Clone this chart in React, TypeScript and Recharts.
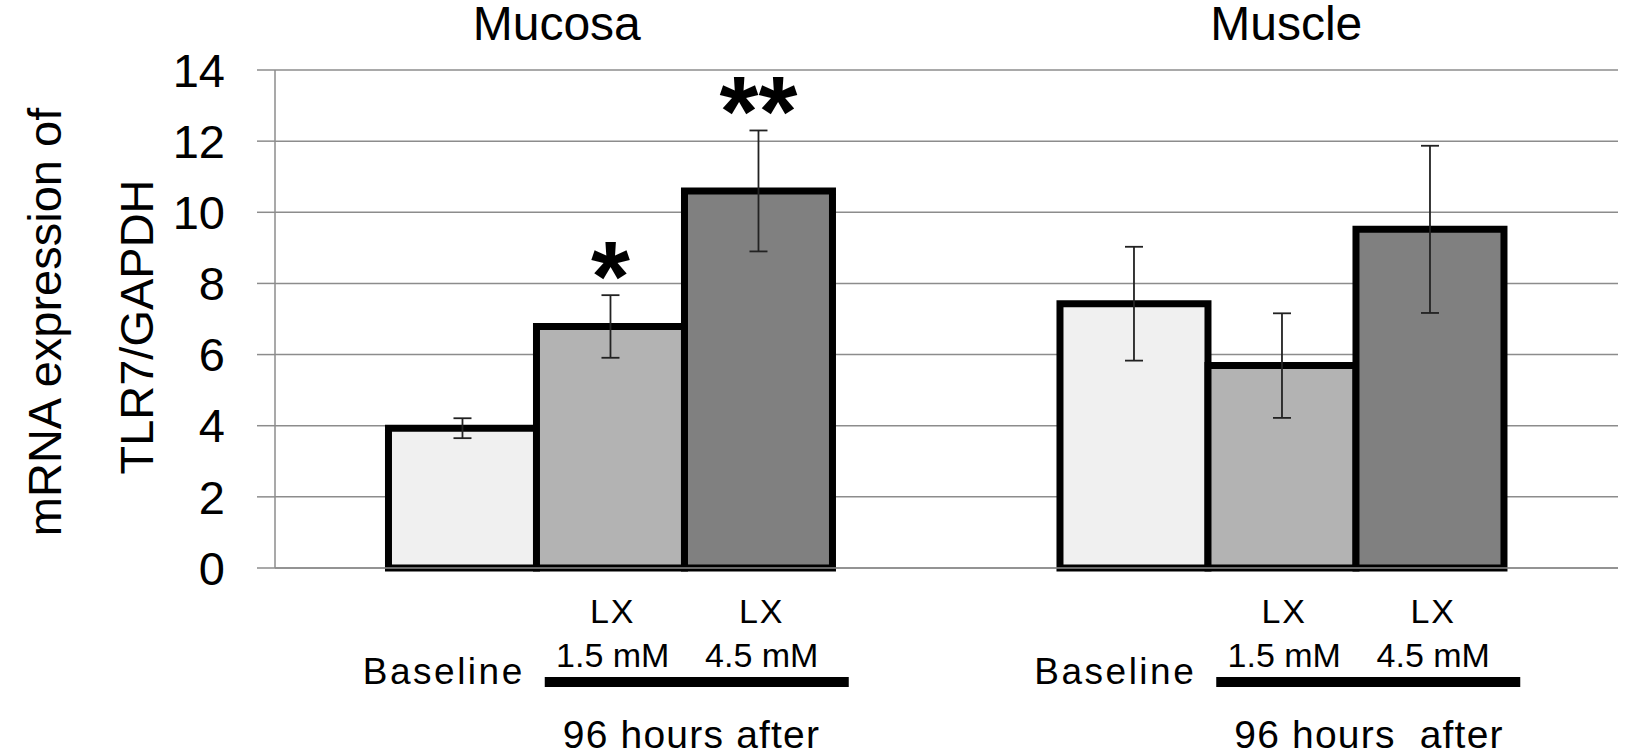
import React from 'react';
import { BarChart, Bar, XAxis, YAxis, CartesianGrid, ErrorBar, LabelList } from 'recharts';

const tissues = ['Mucosa', 'Muscle'];
const baseline = [3.93, 7.43];
const baselineErr = [0.28, 1.6];
const lx15 = [6.79, 5.69];
const lx15Err = [0.88, 1.47];
const lx45 = [10.6, 9.52];
const lx45Err = [1.7, 2.35];
const lx15Sig = ['*', ''];
const lx45Sig = ['**', ''];
const yTicks = [0, 2, 4, 6, 8, 10, 12, 14];
const drugLabel = 'LX';
const doseLabels = ['1.5 mM', '4.5 mM'];
const baselineLabel = 'Baseline';
const afterLabels = ['96 hours after', '96 hours  after'];
const yLabelLines = ['mRNA expression of', 'TLR7/GAPDH'];

const data = tissues.map((name, i) => ({
  name,
  baseline: baseline[i],
  baselineErr: baselineErr[i],
  lx15: lx15[i],
  lx15Err: lx15Err[i],
  lx15Sig: lx15Sig[i],
  lx45: lx45[i],
  lx45Err: lx45Err[i],
  lx45Sig: lx45Sig[i],
}));

const FONT = '"Liberation Sans", Arial, sans-serif';
const BAR_W = 149;
const GRID = '#8c8c8c';

// asterisks sit just above the error bar cap
const sigLabel = (values: number[], errs: number[]) => (props: any) => {
  const { x, y, width, height, value, index } = props;
  if (!value) return null;
  const pxPerUnit = height / values[index];
  const errTop = y - errs[index] * pxPerUnit;
  return (
    <text x={x + width / 2} y={errTop + 16} textAnchor="middle" fontSize={100} fontWeight="bold" fontFamily={FONT} fill="#000">
      {value}
    </text>
  );
};

const BottomTick = (props: any) => {
  const { x, y, index } = props;
  const cx = x;
  return (
    <g fontFamily={FONT} fill="#000">
      {doseLabels.map((d, k) => (
        <g key={d}>
          <text x={cx + k * BAR_W + 2} y={y + 47} textAnchor="middle" fontSize={34} letterSpacing={2}>{drugLabel}</text>
          <text x={cx + k * BAR_W + 2} y={y + 91} textAnchor="middle" fontSize={34}>{d}</text>
        </g>
      ))}
      <text x={cx - 86} y={y + 108} textAnchor="end" fontSize={37} letterSpacing={2.5}>{baselineLabel}</text>
      <rect x={cx - 66} y={y + 101} width={304} height={10} fill="#000" />
      <text x={cx - 48} y={y + 172} textAnchor="start" fontSize={39} letterSpacing={1.2} style={{ whiteSpace: 'pre' }}>
        {afterLabels[index]}
      </text>
    </g>
  );
};

const TopTick = (props: any) => {
  const { x, y, payload, index } = props;
  const dx = index === 0 ? -54 : 4;
  return (
    <text x={x + dx} y={y - 22} textAnchor="middle" fontSize={48} fontFamily={FONT} fill="#000">
      {payload.value}
    </text>
  );
};

const YLabel = () => (
  <g fontFamily={FONT} fontSize={47} fill="#000">
    <text transform="translate(61,322) rotate(-90)" textAnchor="middle">{yLabelLines[0]}</text>
    <text transform="translate(153,327) rotate(-90)" textAnchor="middle">{yLabelLines[1]}</text>
  </g>
);

export default function App() {
  return (
    <div style={{ position: 'absolute', left: 0, top: 0, background: '#fff' }}>
      <BarChart
        width={1628}
        height={752}
        data={data}
        margin={{ top: 0, right: 10, bottom: 0, left: 0 }}
        barGap={0}
        barCategoryGap="16.9%"
      >
        <CartesianGrid vertical={false} stroke={GRID} strokeWidth={1.5} />
        <XAxis
          dataKey="name"
          xAxisId={0}
          height={184}
          axisLine={{ stroke: GRID, strokeWidth: 1.5 }}
          tickLine={false}
          interval={0}
          tick={<BottomTick />}
        />
        <XAxis
          dataKey="name"
          xAxisId="top"
          orientation="top"
          height={70}
          axisLine={false}
          tickLine={false}
          interval={0}
          tick={<TopTick />}
        />
        <YAxis
          width={275}
          domain={[0, 14]}
          ticks={yTicks}
          interval={0}
          tickSize={18}
          tickMargin={32}
          axisLine={{ stroke: GRID, strokeWidth: 1.5 }}
          tickLine={{ stroke: GRID, strokeWidth: 1.5 }}
          tick={{ fontSize: 47, fontFamily: FONT, fill: '#000' }}
          label={{ content: () => <YLabel /> }}
        />
        <Bar dataKey="baseline" fill="#f0f0f0" stroke="#000" strokeWidth={7} isAnimationActive={false}>
          <ErrorBar dataKey="baselineErr" width={9} stroke="#222" strokeWidth={1.8} />
        </Bar>
        <Bar dataKey="lx15" fill="#b3b3b3" stroke="#000" strokeWidth={7} isAnimationActive={false}>
          <ErrorBar dataKey="lx15Err" width={9} stroke="#222" strokeWidth={1.8} />
          <LabelList dataKey="lx15Sig" content={sigLabel(lx15, lx15Err)} />
        </Bar>
        <Bar dataKey="lx45" fill="#808080" stroke="#000" strokeWidth={7} isAnimationActive={false}>
          <ErrorBar dataKey="lx45Err" width={9} stroke="#222" strokeWidth={1.8} />
          <LabelList dataKey="lx45Sig" content={sigLabel(lx45, lx45Err)} />
        </Bar>
      </BarChart>
    </div>
  );
}
